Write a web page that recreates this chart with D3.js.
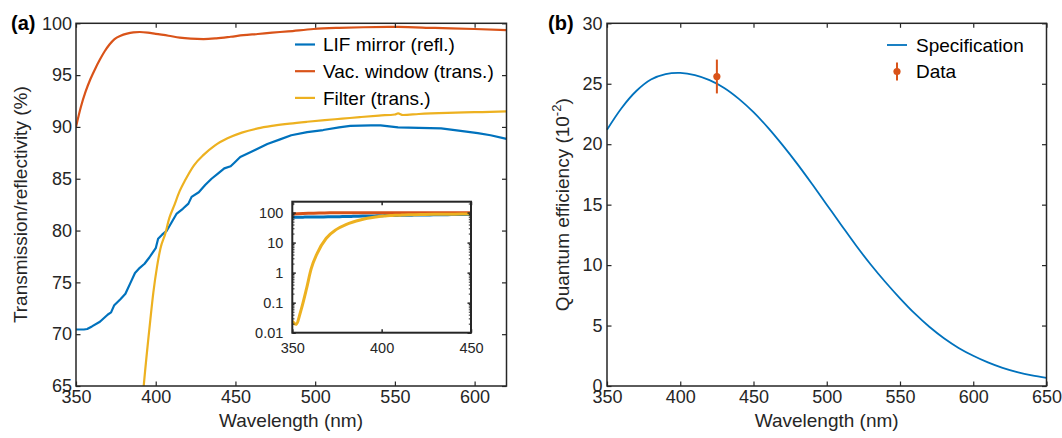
<!DOCTYPE html>
<html>
<head>
<meta charset="utf-8">
<script src="https://cdn.jsdelivr.net/npm/d3@7"></script>
<style>
  body { margin: 0; background: #fff; }
  svg { display: block; font-family: "Liberation Sans", Arial, Helvetica, sans-serif; }
  .tick line { stroke: #262626; }
  .tick text { fill: #262626; }
</style>
</head>
<body>
<svg id="fig" width="1062" height="438"></svg>
<script>
// ---------------- Panel (a): optics ----------------
// LiF mirror reflectivity (%)
const lifWl   = [350, 355, 357, 360, 365, 370, 372, 374, 378, 381, 384, 387, 390, 393, 396, 400, 401.5, 404, 407, 410, 413, 417, 420.5, 422.5, 427, 431, 435, 439, 443, 447, 449, 453, 460, 470, 478, 485, 495, 505, 515, 522, 535, 541, 552, 565, 579, 590, 602, 610, 620];
const lifRefl = [70.45, 70.45, 70.5, 70.75, 71.2, 71.9, 72.1, 72.8, 73.4, 73.9, 74.9, 75.9, 76.4, 76.8, 77.4, 78.3, 79.2, 79.6, 80.0, 80.8, 81.6, 82.1, 82.6, 83.25, 83.7, 84.4, 85.0, 85.5, 86.0, 86.2, 86.5, 87.1, 87.6, 88.35, 88.8, 89.2, 89.5, 89.7, 89.95, 90.1, 90.15, 90.15, 89.96, 89.9, 89.86, 89.65, 89.4, 89.2, 88.85];

// Vacuum window transmission (%)
const winWl    = [350, 353, 356, 359, 362, 365, 368, 371, 374, 378, 382, 386, 390, 395, 400, 408, 415, 422, 430, 438, 447, 455, 464, 473, 483, 499, 515, 530, 552, 575, 600, 620];
const winTrans = [90.0, 91.9, 93.4, 94.6, 95.6, 96.5, 97.3, 97.95, 98.45, 98.8, 99.0, 99.12, 99.16, 99.1, 98.98, 98.8, 98.62, 98.52, 98.48, 98.55, 98.7, 98.85, 98.97, 99.1, 99.22, 99.45, 99.56, 99.62, 99.65, 99.55, 99.45, 99.35];

// Filter transmission (%)
const filtWl    = [350, 352, 355, 358, 360.5, 364, 369, 374.5, 380, 384, 388, 392, 396.6, 398.5, 400.8, 403, 406, 408.5, 411.3, 415, 418.6, 424, 430, 437, 445, 454, 464, 474, 484, 495, 506, 517, 528, 540, 550, 552, 555, 565, 583, 600, 620];
const filtTrans = [0.024, 0.019, 0.06, 0.3, 1.3, 4.5, 14, 27, 40, 48.5, 56.5, 64.2, 71.35, 74.0, 76.5, 78.3, 79.7, 81.2, 82.3, 83.8, 84.9, 86.3, 87.3, 88.2, 88.9, 89.45, 89.86, 90.12, 90.32, 90.5, 90.66, 90.8, 90.95, 91.1, 91.2, 91.3, 91.15, 91.25, 91.36, 91.42, 91.5];

const seriesA = [
  { name: "LIF mirror (refl.)",  wl: lifWl,  val: lifRefl,   color: "#0072BD", curve: d3.curveLinear },
  { name: "Vac. window (trans.)", wl: winWl,  val: winTrans,  color: "#D95319", curve: d3.curveMonotoneX },
  { name: "Filter (trans.)",     wl: filtWl, val: filtTrans, color: "#EDB120", curve: d3.curveMonotoneX }
];

const aXTicks = [350, 400, 450, 500, 550, 600];
const aYTicks = [65, 70, 75, 80, 85, 90, 95, 100];
const insetXTicks = [350, 400, 450];
const insetYTicks = [0.01, 0.1, 1, 10, 100];

// ---------------- Panel (b): detector ----------------
const qeWl   = [350, 360, 370, 380, 390, 400, 410, 420, 430, 440, 450, 460, 470, 480, 490, 500, 510, 520, 530, 540, 550, 560, 570, 580, 590, 600, 610, 620, 630, 640, 650];
const qeSpec = [21.2, 23.0, 24.4, 25.35, 25.8, 25.9, 25.72, 25.3, 24.65, 23.75, 22.65, 21.35, 19.9, 18.35, 16.7, 15.0, 13.3, 11.62, 10.05, 8.6, 7.25, 6.0, 4.9, 3.95, 3.15, 2.5, 1.95, 1.5, 1.15, 0.88, 0.68];

const dataWl  = [425];
const dataQE  = [25.6];
const dataErr = [1.4];

const bXTicks = [350, 400, 450, 500, 550, 600, 650];
const bYTicks = [0, 5, 10, 15, 20, 25, 30];

// ---------------- drawing ----------------
const svg = d3.select("#fig");
const AX = "#262626";
const tickFont = 18, labelFont = 19;

function zip(wl, val) { return wl.map((w, i) => [w, val[i]]); }

// Box-style axes with inward ticks on all four sides
function boxAxes(g, x, y, xt, yt, opt) {
  const [x0, x1] = x.range();
  const [y0, y1] = y.range();
  const tl = opt.tick, fs = opt.font;
  const fmtY = opt.fmtY || (d => d);
  const bottom = g.append("g").attr("transform", `translate(0,${y0})`)
    .call(d3.axisBottom(x).tickValues(xt).tickSizeInner(-tl).tickSizeOuter(0).tickPadding(opt.padX));
  const top = g.append("g").attr("transform", `translate(0,${y1})`)
    .call(d3.axisTop(x).tickValues(xt).tickSizeInner(-tl).tickSizeOuter(0).tickFormat(""));
  const left = g.append("g").attr("transform", `translate(${x0},0)`)
    .call(d3.axisLeft(y).tickValues(yt).tickSizeInner(-tl).tickSizeOuter(0).tickPadding(opt.padY).tickFormat(fmtY));
  const right = g.append("g").attr("transform", `translate(${x1},0)`)
    .call(d3.axisRight(y).tickValues(yt).tickSizeInner(-tl).tickSizeOuter(0).tickFormat(""));
  [bottom, top, left, right].forEach(a => {
    a.select(".domain").remove();
    a.selectAll(".tick line").attr("stroke", AX).attr("stroke-width", opt.tickW || 1.2);
    a.selectAll(".tick text").attr("font-size", fs).attr("font-family", "Liberation Sans, Arial, sans-serif").attr("fill", AX);
  });
  return { bottom, left };
}

function frame(g, x, y, w) {
  const [x0, x1] = x.range();
  const [y0, y1] = y.range();
  g.append("rect").attr("x", x0).attr("y", y1).attr("width", x1 - x0).attr("height", y0 - y1)
    .attr("fill", "none").attr("stroke", AX).attr("stroke-width", w);
}

// ===== Panel (a) =====
const gA = svg.append("g");
const xA = d3.scaleLinear().domain([350, 620]).range([76, 506.5]);
const yA = d3.scaleLinear().domain([65, 100]).range([386, 23.3]);

svg.append("defs").append("clipPath").attr("id", "clipA")
  .append("rect").attr("x", 76).attr("y", 23.3).attr("width", 430.5).attr("height", 362.7);

const lineA = gA.append("g").attr("clip-path", "url(#clipA)");
seriesA.forEach(s => {
  lineA.append("path")
    .datum(zip(s.wl, s.val))
    .attr("fill", "none").attr("stroke", s.color).attr("stroke-width", 2.2)
    .attr("stroke-linejoin", "round")
    .attr("d", d3.line().x(d => xA(d[0])).y(d => yA(d[1])).curve(s.curve));
});

boxAxes(gA, xA, yA, aXTicks, aYTicks, { tick: 4.5, font: tickFont, padX: 4, padY: 4 });
frame(gA, xA, yA, 1.5);

// legend (a)
const legA = gA.append("g");
seriesA.forEach((s, i) => {
  const ly = 44.5 + i * 26.7;
  legA.append("line").attr("x1", 295).attr("x2", 315).attr("y1", ly).attr("y2", ly)
    .attr("stroke", s.color).attr("stroke-width", 2.2);
  legA.append("text").attr("x", 323).attr("y", ly).attr("dy", "0.35em")
    .attr("font-size", labelFont).attr("fill", "#000").text(s.name);
});

// axis labels (a)
gA.append("text").attr("x", 291).attr("y", 427).attr("text-anchor", "middle")
  .attr("font-size", labelFont).attr("fill", AX).text("Wavelength (nm)");
gA.append("text").attr("transform", "translate(27,204.7) rotate(-90)").attr("text-anchor", "middle")
  .attr("font-size", labelFont).attr("fill", AX).text("Transmission/reflectivity (%)");
gA.append("text").attr("x", 11).attr("y", 29.5).attr("font-size", 20).attr("font-weight", "bold")
  .attr("fill", "#000").text("(a)");

// ----- inset: same spectra on a log scale -----
const gI = svg.append("g");
const xI = d3.scaleLinear().domain([350, 450]).range([292.3, 471]);
const yI = d3.scaleLog().domain([0.01, 230]).range([332.7, 201.7]);
gI.append("rect").attr("x", 292.3).attr("y", 201.7).attr("width", 178.7).attr("height", 131)
  .attr("fill", "#fff");
svg.select("defs").append("clipPath").attr("id", "clipI")
  .append("rect").attr("x", 292.3).attr("y", 201.7).attr("width", 178.7).attr("height", 131);
const lineI = gI.append("g").attr("clip-path", "url(#clipI)");
seriesA.forEach(s => {
  lineI.append("path")
    .datum(zip(s.wl, s.val).filter(d => d[0] <= 460))
    .attr("fill", "none").attr("stroke", s.color).attr("stroke-width", 3)
    .attr("stroke-linejoin", "round")
    .attr("d", d3.line().x(d => xI(d[0])).y(d => yI(d[1])).curve(d3.curveMonotoneX));
});
// minor log ticks
const minorI = [];
[0.01, 0.1, 1, 10, 100].forEach(dec => { for (let k = 2; k <= 9; k++) { if (dec * k <= 230) minorI.push(dec * k); } });
[[292.3, d3.axisLeft], [471, d3.axisRight]].forEach(([px, fn]) => {
  const m = gI.append("g").attr("transform", `translate(${px},0)`)
    .call(fn(yI).tickValues(minorI).tickSizeInner(-2.2).tickSizeOuter(0).tickFormat(""));
  m.select(".domain").remove();
  m.selectAll(".tick line").attr("stroke", AX).attr("stroke-width", 1);
});
boxAxes(gI, xI, yI, insetXTicks, insetYTicks, {
  tick: 3.5, font: 14.5, padX: 10, padY: 9, tickW: 1.5,
  fmtY: d => d3.format("~g")(d)
});
frame(gI, xI, yI, 2);

// ===== Panel (b) =====
const gB = svg.append("g");
const xB = d3.scaleLinear().domain([350, 650]).range([607, 1046.5]);
const yB = d3.scaleLinear().domain([0, 30]).range([386, 23.3]);

gB.append("path")
  .datum(zip(qeWl, qeSpec))
  .attr("fill", "none").attr("stroke", "#0072BD").attr("stroke-width", 1.8)
  .attr("d", d3.line().x(d => xB(d[0])).y(d => yB(d[1])).curve(d3.curveCatmullRom.alpha(0.5)));

const pts = dataWl.map((w, i) => ({ w, q: dataQE[i], e: dataErr[i] }));
gB.selectAll("line.err").data(pts).enter().append("line").attr("class", "err")
  .attr("x1", d => xB(d.w)).attr("x2", d => xB(d.w))
  .attr("y1", d => yB(d.q + d.e)).attr("y2", d => yB(d.q - d.e))
  .attr("stroke", "#D95319").attr("stroke-width", 2);
gB.selectAll("circle.pt").data(pts).enter().append("circle").attr("class", "pt")
  .attr("cx", d => xB(d.w)).attr("cy", d => yB(d.q)).attr("r", 3.6)
  .attr("fill", "#D95319");

boxAxes(gB, xB, yB, bXTicks, bYTicks, { tick: 4.5, font: tickFont, padX: 4, padY: 4.5 });
frame(gB, xB, yB, 1.5);

// legend (b)
gB.append("line").attr("x1", 887).attr("x2", 907).attr("y1", 45).attr("y2", 45)
  .attr("stroke", "#0072BD").attr("stroke-width", 1.8);
gB.append("text").attr("x", 916).attr("y", 45).attr("dy", "0.35em")
  .attr("font-size", labelFont).attr("fill", "#000").text("Specification");
gB.append("line").attr("x1", 897).attr("x2", 897).attr("y1", 62.5).attr("y2", 80.5)
  .attr("stroke", "#D95319").attr("stroke-width", 2);
gB.append("circle").attr("cx", 897).attr("cy", 71.5).attr("r", 3.6).attr("fill", "#D95319");
gB.append("text").attr("x", 916).attr("y", 71.5).attr("dy", "0.35em")
  .attr("font-size", labelFont).attr("fill", "#000").text("Data");

// axis labels (b)
gB.append("text").attr("x", 826.7).attr("y", 427).attr("text-anchor", "middle")
  .attr("font-size", labelFont).attr("fill", AX).text("Wavelength (nm)");
const yl = gB.append("text").attr("transform", "translate(569,204.7) rotate(-90)").attr("text-anchor", "middle")
  .attr("font-size", labelFont).attr("fill", AX);
yl.append("tspan").text("Quantum efficiency (10");
yl.append("tspan").attr("font-size", 13).attr("dy", -8).text("-2");
yl.append("tspan").attr("dy", 8).text(")");
gB.append("text").attr("x", 548).attr("y", 29.5).attr("font-size", 20).attr("font-weight", "bold")
  .attr("fill", "#000").text("(b)");
</script>
</body>
</html>
